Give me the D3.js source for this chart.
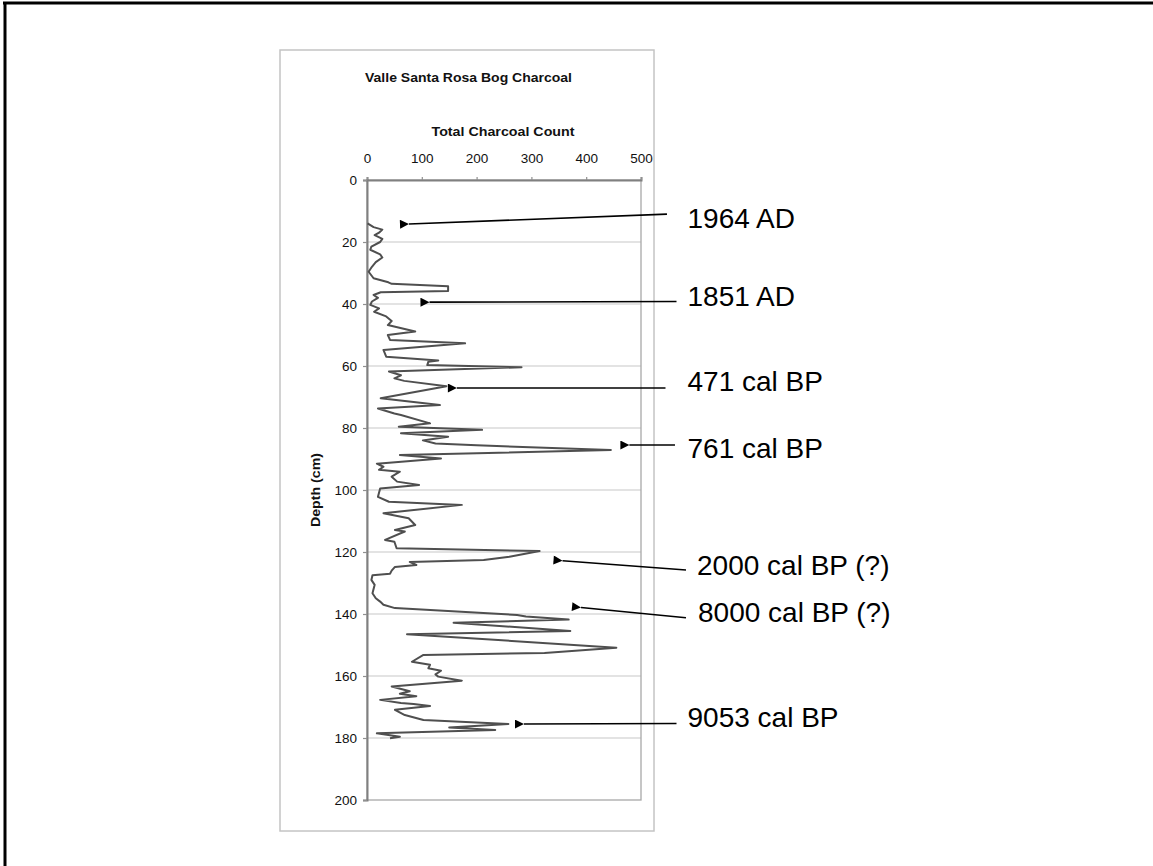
<!DOCTYPE html>
<html>
<head>
<meta charset="utf-8">
<script src="https://cdn.jsdelivr.net/npm/d3@7"></script>
<style>
	html, body { margin: 0; padding: 0; background: #fff; }
	svg { display: block; font-family: "Liberation Sans", Arial, sans-serif; }
</style>
</head>
<body>
<div id="chart"></div>
<script>
// depth down the core (cm) and charcoal count at that depth
const depth = [14.0, 15.2, 16.0, 17.0, 17.8, 19.0, 20.0, 21.5, 22.5, 24.0, 25.0, 26.5, 28.0, 29.6, 31.7,
	33.0, 33.5, 34.3, 35.8, 36.2, 37.1, 38.0, 39.2, 40.3, 41.4, 42.5, 44.0, 45.5, 46.8, 48.9, 50.0,
	51.6, 52.7, 54.8, 57.0, 58.2, 58.6, 59.7, 60.4, 61.8, 63.0, 64.0, 64.8, 66.5, 70.4, 72.6, 73.7,
	75.3, 75.8, 78.5, 79.6, 80.6, 81.7, 82.8, 84.0, 85.0, 85.6, 87.1, 88.7, 89.8, 91.5, 92.5, 93.5,
	94.1, 95.7, 97.3, 98.4, 99.5, 102.2, 103.8, 104.8, 107.5, 109.1, 111.3, 112.9, 113.4, 116.1, 116.7,
	118.8, 119.7, 121.5, 122.6, 123.2, 124.2, 124.8, 126.0, 127.0, 127.5, 129.0, 130.6, 133.3, 134.9,
	136.0, 137.0, 138.1, 140.3, 140.8, 141.8, 142.8, 145.5, 146.5, 150.9, 152.6, 153.2, 155.4, 156.4,
	157.5, 158.3, 159.5, 160.2, 161.5, 163.4, 164.9, 165.7, 166.5, 167.7, 168.7, 169.0, 169.7, 170.9,
	172.6, 174.2, 175.5, 176.6, 177.4, 178.5, 179.6, 180.1];
const count = [1, 12, 28, 22, 14, 28, 24, 8, 6, 24, 28, 16, 9, 3, 12,
	39, 45, 148, 148, 25, 12, 20, 9, 6, 22, 13, 35, 45, 38, 88, 38,
	42, 179, 30, 35, 130, 112, 110, 282, 40, 62, 50, 68, 145, 25, 133, 20,
	50, 62, 115, 58, 210, 62, 148, 102, 125, 200, 445, 60, 135, 18, 30, 22,
	60, 45, 55, 95, 24, 20, 40, 173, 30, 76, 88, 51, 69, 33, 50,
	54, 315, 260, 213, 78, 90, 51, 45, 42, 10, 8, 14, 10, 16,
	24, 30, 51, 274, 290, 368, 158, 371, 73, 455, 324, 103, 82, 115,
	112, 135, 125, 130, 173, 45, 78, 60, 90, 24, 62, 85, 115, 51,
	69, 103, 258, 150, 234, 18, 60, 42];

const xTicks = [0, 100, 200, 300, 400, 500];
const yTicks = [0, 20, 40, 60, 80, 100, 120, 140, 160, 180, 200];

// dating notes, arrow tip and tail given as [count, depth]
const noteText = ["1964 AD", "1851 AD", "471 cal BP", "761 cal BP", "2000 cal BP (?)", "8000 cal BP (?)", "9053 cal BP"];
const noteTip = [[76.6, 14.2], [114, 39.4], [164, 67.1], [478.8, 85.5], [356.8, 122.8], [390.5, 137.9], [286.5, 175.5]];
const noteTail = [[547.4, 11.0], [564.8, 39.2], [544.7, 67.1], [562, 85.5], [582.1, 125.8], [582.1, 141.2], [564.8, 175.3]];
const noteAt = [[584.9, 15.5], [584.9, 40.6], [584.9, 68.1], [584.9, 89.7], [602.2, 127.4], [604, 142.5], [584.9, 176.5]];

class CharcoalChart {
	constructor(container) {
		this.width = 1153;
		this.height = 866;
		this.plot = { left: 367, right: 641, top: 180, bottom: 800 };
		this.panel = { x: 280, y: 50, w: 374, h: 781 };
		this.svg = d3.select(container).append("svg")
			.attr("width", this.width)
			.attr("height", this.height);
	}
	Draw() {
		this.x = d3.scaleLinear().domain([0, 500]).range([this.plot.left, this.plot.right]);
		this.y = d3.scaleLinear().domain([0, 200]).range([this.plot.top, this.plot.bottom]);
		this._drawFrame();
		this._drawGrid();
		this._drawAxes();
		this._drawLine();
		this._drawNotes();
	}
	_drawFrame() {
		const svg = this.svg;
		svg.append("rect").attr("width", this.width).attr("height", this.height).attr("fill", "#fff");
		// only top and left edges of the outer frame are in the picture
		svg.append("line").attr("x1", 3).attr("x2", this.width).attr("y1", 3).attr("y2", 3)
			.attr("stroke", "#000").attr("stroke-width", 3);
		svg.append("line").attr("x1", 5).attr("x2", 5).attr("y1", 2).attr("y2", this.height)
			.attr("stroke", "#000").attr("stroke-width", 3);

		svg.append("rect")
			.attr("x", this.panel.x).attr("y", this.panel.y)
			.attr("width", this.panel.w).attr("height", this.panel.h)
			.attr("fill", "#fff").attr("stroke", "#c4c4c4").attr("stroke-width", 1.5);

		svg.append("text")
			.attr("x", 365).attr("y", 82)
			.attr("textLength", 207).attr("lengthAdjust", "spacingAndGlyphs")
			.style("font-size", "13px").style("font-weight", "bold").attr("fill", "#111")
			.text("Valle Santa Rosa Bog Charcoal");
	}
	_drawGrid() {
		const p = this.plot;
		this.svg.append("g").selectAll("line")
			.data(yTicks.filter(d => d > 0 && d < 200))
			.join("line")
			.attr("x1", p.left).attr("x2", p.right)
			.attr("y1", d => this.y(d)).attr("y2", d => this.y(d))
			.attr("stroke", "#c8c8c8").attr("stroke-width", 1.2);
		this.svg.append("rect")
			.attr("x", p.left).attr("y", p.top)
			.attr("width", p.right - p.left).attr("height", p.bottom - p.top)
			.attr("fill", "none").attr("stroke", "#a8a8a8").attr("stroke-width", 1.3);
	}
	_drawAxes() {
		const p = this.plot;
		const xAxis = this.svg.append("g")
			.attr("transform", `translate(0,${ p.top })`)
			.call(d3.axisTop(this.x).tickValues(xTicks).tickSize(3).tickPadding(14));
		const yAxis = this.svg.append("g")
			.attr("transform", `translate(${ p.left },0)`)
			.call(d3.axisLeft(this.y).tickValues(yTicks).tickSize(4).tickPadding(6));

		[xAxis, yAxis].forEach(a => {
			a.select(".domain").attr("stroke", "#808080").attr("stroke-width", 2);
			a.selectAll(".tick line").attr("stroke", "#909090").attr("stroke-width", 1.2);
			a.selectAll(".tick text")
				.attr("fill", "#111")
				.style("font-size", "13.5px")
				.style("font-family", "\"Liberation Sans\", Arial, sans-serif");
		});
		yAxis.selectAll(".tick text").attr("dy", "0.36em");

		this.svg.append("text")
			.attr("x", 503).attr("y", 136)
			.attr("text-anchor", "middle")
			.attr("textLength", 143).attr("lengthAdjust", "spacingAndGlyphs")
			.style("font-size", "13px").style("font-weight", "bold").attr("fill", "#111")
			.text("Total Charcoal Count");

		this.svg.append("text")
			.attr("transform", `translate(320,${ (p.top + p.bottom) / 2 }) rotate(-90)`)
			.attr("text-anchor", "middle")
			.attr("textLength", 74).attr("lengthAdjust", "spacingAndGlyphs")
			.style("font-size", "13px").style("font-weight", "bold").attr("fill", "#111")
			.text("Depth (cm)");
	}
	_drawLine() {
		const points = depth.map((d, i) => [count[i], d]);
		const line = d3.line()
			.x(d => this.x(d[0]))
			.y(d => this.y(d[1]));
		this.svg.append("path")
			.datum(points)
			.attr("d", line)
			.attr("fill", "none")
			.attr("stroke", "#4f4f4f")
			.attr("stroke-width", 2)
			.attr("stroke-linejoin", "round");
	}
	_drawNotes() {
		const defs = this.svg.append("defs");
		defs.append("marker")
			.attr("id", "head")
			.attr("viewBox", "0 0 10 10")
			.attr("refX", 0).attr("refY", 5)
			.attr("markerWidth", 13).attr("markerHeight", 9)
			.attr("markerUnits", "userSpaceOnUse")
			.attr("orient", "auto-start-reverse")
			.append("path").attr("d", "M0,5L10,0L10,10Z").attr("fill", "#000");

		const g = this.svg.append("g");
		noteText.forEach((t, i) => {
			g.append("line")
				.attr("x1", this.x(noteTip[i][0])).attr("y1", this.y(noteTip[i][1]))
				.attr("x2", this.x(noteTail[i][0])).attr("y2", this.y(noteTail[i][1]))
				.attr("stroke", "#000").attr("stroke-width", 1.6)
				.attr("marker-start", "url(#head)");
			g.append("text")
				.attr("x", this.x(noteAt[i][0])).attr("y", this.y(noteAt[i][1]))
				.style("font-size", "28px").attr("fill", "#000")
				.text(t);
		});
	}
}

const chart = new CharcoalChart("#chart");
chart.Draw();
</script>
</body>
</html>
